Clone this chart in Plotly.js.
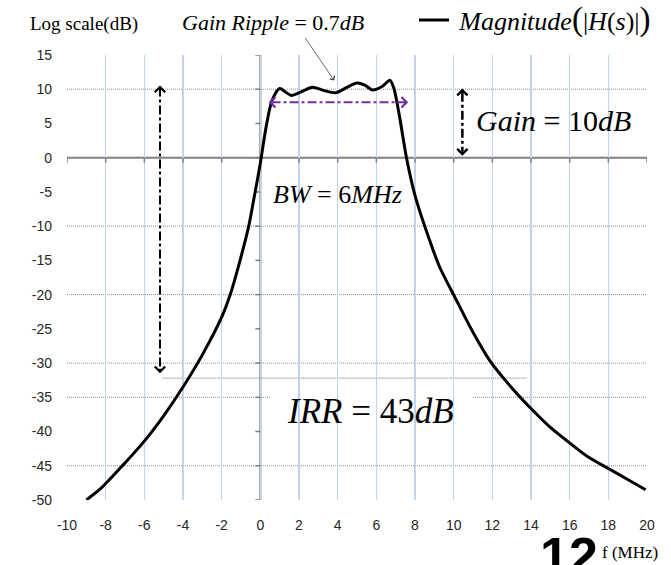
<!DOCTYPE html>
<html><head><meta charset="utf-8">
<script src="https://cdn.plot.ly/plotly-3.0.1.min.js"></script>
<style>html,body{margin:0;padding:0;background:#fff}#chart{width:671px;height:565px}</style>
</head><body><div id="chart"></div>
<script>
// ---- data ----
const freqMHz = [-9.0, -8.25, -7.2, -6.0, -5.0, -4.0, -3.0, -2.0, -1.5, -1.0, -0.6, -0.3, 0.0, 0.3, 0.6, 1.0, 1.3, 1.6, 2.1, 2.7, 3.3, 3.9, 4.5, 5.0, 5.4, 5.8, 6.3, 6.7, 6.9, 7.2, 7.56, 8.0, 8.76, 9.28, 10.14, 11.0, 11.86, 13.0, 14.09, 15.0, 16.15, 17.0, 18.0, 19.0, 19.93];
const magnitudeDb = [-50, -48.3, -45.2, -41.4, -37.7, -33.5, -28.8, -23.3, -19.5, -14.5, -10, -5.5, -0.8, 4.5, 8.3, 10.1, 9.6, 9.1, 9.6, 10.3, 9.8, 9.5, 10.3, 10.9, 10.6, 9.9, 10.4, 11.3, 10.2, 6, 0, -5.5, -12.1, -16, -20.8, -25.5, -29.6, -33.6, -36.9, -39.4, -42.0, -43.8, -45.4, -47.0, -48.5];
const xTicks = [-10, -8, -6, -4, -2, 0, 2, 4, 6, 8, 10, 12, 14, 16, 18, 20];
const yTicks = [15, 10, 5, 0, -5, -10, -15, -20, -25, -30, -35, -40, -45, -50];
const dottedGridDb = [10, -10, -20, -30, -35, -45];
const irrLevelX = [-5.05, 13.8];
const irrLevelDb = -32.2;
const bwArrowX = [0.43, 7.65];
const bwArrowDb = 8.1;
const irrArrowX = -5.19;
const irrArrowDb = [10.55, -31.5];
const gainArrowX = 10.45;
const gainArrowDb = [10.1, 0.3];
const rippleTip = [3.82, 11.28];

const serif = 'Liberation Serif, Times New Roman, serif';
const sans = 'Liberation Sans, Arial, sans-serif';

// plot-area geometry helpers (pixel -> paper)
const L = 67, W = 580, T = 55, H = 445;
const px = v => (v - L) / W;
const py = v => 1 - (v - T) / H;

const shapes = [];
// dotted horizontal grid
dottedGridDb.forEach(v => shapes.push({type:'line', layer:'below', xref:'paper', x0:0, x1:1, yref:'y', y0:v, y1:v,
  line:{color:'#8a8a8a', width:1, dash:'1px,1px'}}));
// short level line at the IRR arrow foot
shapes.push({type:'line', layer:'below', xref:'x', x0:irrLevelX[0], x1:irrLevelX[1], yref:'y', y0:irrLevelDb, y1:irrLevelDb,
  line:{color:'#6a6a6a', width:1, dash:'1px,1px'}});
// white text boxes that hide the grid
[[266, 414, 172, 218], [448, 640, 93, 148], [270, 473, 385, 434]].forEach(b => {
  shapes.push({type:'rect', layer:'between', xref:'paper', yref:'paper',
    x0:px(b[0]), x1:px(b[1]), y0:py(b[3]), y1:py(b[2]),
    fillcolor:'#ffffff', line:{width:0}});
});
// zero axes
shapes.push({type:'line', layer:'between', xref:'paper', x0:0, x1:1, yref:'y', y0:0, y1:0, line:{color:'#808080', width:2}});
shapes.push({type:'line', layer:'between', xref:'x', x0:0, x1:0, yref:'paper', y0:0, y1:1, line:{color:'#808080', width:2}});
xTicks.forEach(t => shapes.push({type:'line', layer:'between', xref:'x', x0:t, x1:t, yref:'y', ysizemode:'pixel', yanchor:0, y0:0, y1:-5,
  line:{color:'#808080', width:1.5}}));
yTicks.forEach(t => shapes.push({type:'line', layer:'between', yref:'y', y0:t, y1:t, xref:'x', xsizemode:'pixel', xanchor:0, x0:-5, x1:0,
  line:{color:'#808080', width:1.5}}));
// dimension arrows (shafts)
shapes.push({type:'line', layer:'above', xref:'x', yref:'y', x0:bwArrowX[0]+0.15, x1:bwArrowX[1]-0.15, y0:bwArrowDb, y1:bwArrowDb,
  line:{color:'#7030a0', width:2, dash:'dashdot'}});
shapes.push({type:'line', layer:'above', xref:'x', yref:'y', x0:irrArrowX, x1:irrArrowX, y0:irrArrowDb[0]-0.3, y1:irrArrowDb[1]+0.3,
  line:{color:'#000000', width:2, dash:'dashdot'}});
shapes.push({type:'line', layer:'above', xref:'x', yref:'y', x0:gainArrowX, x1:gainArrowX, y0:gainArrowDb[0]-0.6, y1:gainArrowDb[1]+0.6,
  line:{color:'#000000', width:2.5, dash:'dashdot'}});

function head(x, y, ax, ay, color) {
  return {x:x, y:y, xref:'x', yref:'y', ax:ax, ay:ay, text:'', showarrow:true,
    arrowhead:4, arrowsize:1, arrowwidth:2, arrowcolor:color, standoff:0};
}
function label(cx, cy, text, family, size) {
  return {xref:'paper', yref:'paper', x:px(cx), y:py(cy), xanchor:'center', yanchor:'middle',
    text:text, showarrow:false, font:{family:family, size:size, color:'#000'}};
}
const annotations = [
  head(bwArrowX[0], bwArrowDb, 6, 0, '#7030a0'),
  head(bwArrowX[1], bwArrowDb, -6, 0, '#7030a0'),
  head(irrArrowX, irrArrowDb[0], 0, 6, '#000'),
  head(irrArrowX, irrArrowDb[1], 0, -6, '#000'),
  head(gainArrowX, gainArrowDb[0], 0, 6, '#000'),
  head(gainArrowX, gainArrowDb[1], 0, -6, '#000'),
  {x:rippleTip[0], y:rippleTip[1], xref:'x', yref:'y', ax:-30, ay:-44, text:'', showarrow:true,
    arrowhead:4, arrowsize:1.4, arrowwidth:0.8, arrowcolor:'#404040', standoff:0},
  label(83.5, 24, 'Log scale(dB)', serif, 19),
  label(273, 22, '<i>Gain Ripple</i> = 0.7<i>dB</i>', serif, 22),
  label(337, 194, '<i>BW</i> = 6<i>MHz</i>', serif, 26),
  label(553, 120, '<i>Gain</i> = 10<i>dB</i>', serif, 30),
  label(370, 411, '<i>IRR</i> = 43<i>dB</i>', serif, 35),
  label(630, 552, 'f (MHz)', serif, 17),
  label(569, 556, '<b>12</b>', sans, 52)
];

const trace = {
  x: freqMHz, y: magnitudeDb, type:'scatter', mode:'lines',
  name:'\u2009<i>Magnitude</i><span style="font-size:33px">(</span>|<i>H</i>(<i>s</i>)|<span style="font-size:33px">)</span>',
  line:{color:'#000', width:3, shape:'spline', smoothing:0.8},
  hoverinfo:'skip'
};

const layout = {
  width:671, height:565,
  margin:{l:L, r:671-L-W, t:T, b:565-T-H, pad:0, autoexpand:false},
  paper_bgcolor:'#fff', plot_bgcolor:'#fff',
  showlegend:true,
  legend:{x:px(414), y:py(20), xanchor:'left', yanchor:'middle', bgcolor:'rgba(0,0,0,0)',
    font:{family:serif, size:26, color:'#000'}},
  xaxis:{range:[-10,20], tickvals:xTicks, ticktext:xTicks.map(String), showgrid:true, gridcolor:'#c3d3ee', gridwidth:1.5,
    zeroline:false, showline:false, ticks:'', ticklabelstandoff:15, automargin:false,
    tickfont:{family:sans, size:14, color:'#262626'}, fixedrange:true},
  yaxis:{range:[-50,15], tickvals:yTicks, ticktext:yTicks.map(String), showgrid:false,
    zeroline:false, showline:false, ticks:'', ticklabelstandoff:14, automargin:false,
    tickfont:{family:sans, size:14, color:'#262626'}, fixedrange:true},
  shapes:shapes,
  annotations:annotations
};
Plotly.newPlot('chart', [trace], layout, {displayModeBar:false, staticPlot:true});
</script>
</body></html>
